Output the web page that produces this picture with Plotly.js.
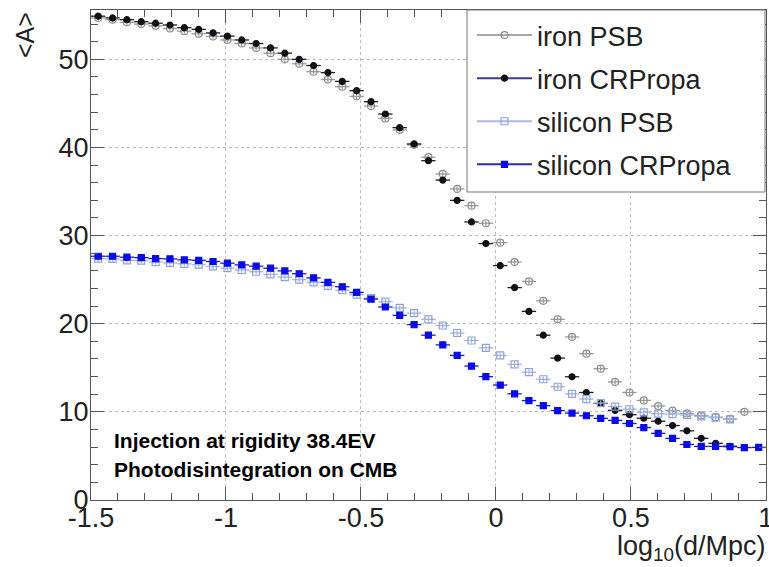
<!DOCTYPE html>
<html>
<head>
<meta charset="utf-8">
<script src="https://cdn.plot.ly/plotly-3.0.1.min.js"></script>
<style>html,body{margin:0;padding:0;background:#fff;}#chart{width:769px;height:567px;}</style>
</head>
<body>
<div id="chart"></div>
<script>
// Histogram binning of log10(d/Mpc)
const binMin = -1.5;
const binMax = 1.0;
const nBins = 47;
const xCenters = Array.from({length: nBins}, (_, i) => binMin + (i + 0.5) * (binMax - binMin) / nBins);
const halfBin = (binMax - binMin) / nBins / 2;

// Tick labels
const xTickVals = [-1.5, -1, -0.5, 0, 0.5, 1];
const xTickText = ['-1.5', '-1', '-0.5', '0', '0.5', '1'];
const yTickVals = [0, 10, 20, 30, 40, 50];
const yTickText = ['0', '10', '20', '30', '40', '50'];

// <A> values
const ironPSB = [54.7, 54.5, 54.2, 54.0, 53.8, 53.5, 53.2, 52.9, 52.6, 52.2,
  51.8, 51.3, 50.7, 50.0, 49.5, 48.6, 47.7, 46.9, 45.8, 44.7,
  43.3, 42.0, 40.3, 38.9, 37.0, 35.3, 33.4, 31.4, 29.2, 27.0,
  24.8, 22.6, 20.5, 18.5, 16.6, 14.9, 13.4, 12.2, 11.3, 10.66,
  10.15, 9.82, 9.6, 9.4, 9.2, 10.0];
const ironCRPropa = [54.9, 54.7, 54.5, 54.27, 54.1, 53.9, 53.6, 53.4, 53.0, 52.64,
  52.2, 51.8, 51.3, 50.7, 50.0, 49.3, 48.5, 47.5, 46.45, 45.2,
  43.8, 42.25, 40.4, 38.5, 36.3, 34.0, 31.55, 29.1, 26.6, 24.1,
  21.4, 18.7, 16.1, 13.98, 12.2, 10.96, 10.17, 9.68, 9.28, 8.94,
  8.45, 7.85, 7.0, 6.43, 6.1];
const siliconPSB = [27.4, 27.36, 27.2, 27.17, 27.0, 26.9, 26.8, 26.7, 26.5, 26.3,
  26.1, 25.9, 25.6, 25.3, 25.0, 24.7, 24.3, 23.8, 23.3, 22.9,
  22.5, 21.8, 21.2, 20.5, 19.8, 18.95, 18.1, 17.27, 16.4, 15.4,
  14.5, 13.7, 12.85, 12.05, 11.45, 11.0, 10.6, 10.3, 9.95, 9.8,
  9.75, 9.65, 9.5, 9.35, 9.15];
const siliconCRPropa = [27.66, 27.66, 27.55, 27.5, 27.4, 27.36, 27.25, 27.2, 27.06, 26.87,
  26.68, 26.53, 26.3, 26.0, 25.67, 25.2, 24.7, 24.2, 23.55, 22.8,
  21.9, 20.95, 19.9, 18.7, 17.6, 16.4, 15.2, 14.0, 13.04, 12.05,
  11.28, 10.7, 10.15, 9.86, 9.56, 9.26, 9.03, 8.68, 8.22, 7.56,
  6.99, 6.3, 6.08, 6.08, 6.05, 5.95, 5.97];

const seriesNames = ['iron PSB', 'iron CRPropa', 'silicon PSB', 'silicon CRPropa'];
const seriesData = [ironPSB, ironCRPropa, siliconPSB, siliconCRPropa];

const styles = [
  {symbol: 'circle-open', mcolor: '#8c8c8c', size: 7, ecolor: '#9a9a9a', lcolor: '#a8a8a8'},
  {symbol: 'circle', mcolor: '#111111', size: 6, ecolor: '#1a1a3a', lcolor: '#3a3a90'},
  {symbol: 'square-open', mcolor: '#8fa3d6', size: 7, ecolor: '#a3b3dd', lcolor: '#a9b8e0'},
  {symbol: 'square', mcolor: '#0a0ae6', size: 6, ecolor: '#1a1ad0', lcolor: '#2a2ac0'}
];

const FONT = '"Liberation Sans", Arial, Helvetica, sans-serif';
const traces = [];
seriesData.forEach((vals, i) => {
  const st = styles[i];
  traces.push({
    type: 'scatter', mode: 'markers', name: seriesNames[i],
    x: xCenters.slice(0, vals.length), y: vals,
    showlegend: false, legendgroup: 'g' + i,
    marker: {symbol: st.symbol, color: st.mcolor, size: st.size, line: {color: st.mcolor, width: 1.2}},
    error_x: {type: 'constant', value: halfBin, width: 0, thickness: 1.3, color: st.ecolor},
    error_y: {type: 'constant', value: 0.3, width: 0, thickness: 1.2, color: st.ecolor}
  });
});
// legend entries (ROOT-style line + marker)
seriesData.forEach((vals, i) => {
  const st = styles[i];
  traces.push({
    type: 'scatter', mode: 'lines+markers', name: seriesNames[i],
    x: [null], y: [null], legendgroup: 'g' + i, showlegend: true,
    line: {color: st.lcolor, width: 2},
    marker: {symbol: st.symbol, color: st.mcolor, size: st.size, line: {color: st.mcolor, width: 1.2}}
  });
});

const L = 91, R = 3, T = 10, B = 67;
const W = 769, H = 567;
const pw = W - L - R, ph = H - T - B;
const px = v => (v - L) / pw;
const py = v => (H - B - v) / ph;

const layout = {
  width: W, height: H,
  margin: {l: L, r: R, t: T, b: B, pad: 0},
  paper_bgcolor: '#fff', plot_bgcolor: '#fff',
  font: {family: FONT, color: '#222', size: 27},
  showlegend: true,
  legend: {
    x: px(472), y: py(11), xanchor: 'left', yanchor: 'top',
    bgcolor: 'rgba(0,0,0,0)', borderwidth: 0,
    font: {family: FONT, size: 27, color: '#222'},
    tracegroupgap: 5, itemwidth: 55, traceorder: 'grouped'
  },
  xaxis: {
    range: [binMin, binMax + 0.0005],
    tickmode: 'array', tickvals: xTickVals, ticktext: xTickText,
    ticks: 'inside', ticklen: 13, tickwidth: 1, tickcolor: '#555',
    ticklabeloverflow: 'allow', ticklabelstandoff: -6,
    showline: true, linecolor: '#555', linewidth: 1, mirror: 'ticks',
    showgrid: true, gridcolor: '#bdbdbd', griddash: 'dot', gridwidth: 1,
    zeroline: false,
    tickfont: {family: FONT, size: 27, color: '#222'},
    minor: {dtick: 0.1, tick0: 0, ticks: 'inside', ticklen: 7, tickcolor: '#555', showgrid: false}
  },
  yaxis: {
    range: [0, 55.6],
    tickmode: 'array', tickvals: yTickVals, ticktext: yTickText,
    ticks: 'inside', ticklen: 13, tickwidth: 1, tickcolor: '#555',
    ticklabelstandoff: -4,
    showline: true, linecolor: '#555', linewidth: 1, mirror: 'ticks',
    showgrid: true, gridcolor: '#bdbdbd', griddash: 'dot', gridwidth: 1,
    zeroline: false,
    tickfont: {family: FONT, size: 27, color: '#222'},
    minor: {dtick: 2, tick0: 0, ticks: 'inside', ticklen: 7, tickcolor: '#555', showgrid: false}
  },
  shapes: [{
    type: 'rect', xref: 'paper', yref: 'paper',
    x0: px(467), x1: px(765), y0: py(192), y1: py(10),
    line: {color: '#777', width: 1}, fillcolor: '#fff', layer: 'above'
  }],
  annotations: [
    {xref: 'paper', yref: 'paper', x: px(112), y: py(440), xanchor: 'left', yanchor: 'middle',
     text: '<b>Injection at rigidity 38.4EV</b>', showarrow: false,
     font: {family: FONT, size: 21, color: '#000'}},
    {xref: 'paper', yref: 'paper', x: px(112), y: py(469), xanchor: 'left', yanchor: 'middle',
     text: '<b>Photodisintegration on CMB</b>', showarrow: false,
     font: {family: FONT, size: 21, color: '#000'}},
    {xref: 'paper', yref: 'paper', x: px(768), y: py(548), xanchor: 'right', yanchor: 'middle',
     text: 'log<sub>10</sub>(d/Mpc)', showarrow: false,
     font: {family: FONT, size: 27, color: '#222'}},
    {xref: 'paper', yref: 'paper', x: px(25), y: py(35), xanchor: 'center', yanchor: 'middle',
     text: '&lt;A&gt;', textangle: -90, showarrow: false,
     font: {family: FONT, size: 25, color: '#222'}}
  ]
};

Plotly.newPlot('chart', traces, layout, {displayModeBar: false, staticPlot: true});
</script>
</body>
</html>
